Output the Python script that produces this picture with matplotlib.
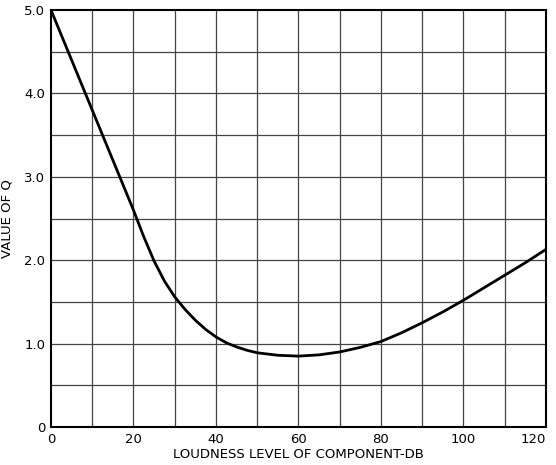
import numpy as np
import matplotlib
matplotlib.use("Agg")
import matplotlib.pyplot as plt

# Q value vs loudness level of component
level_db = [0, 2.5, 5, 7.5, 10, 12.5, 15, 17.5, 20, 22.5, 25, 27.5, 30, 32.5, 35, 37.5,
            40, 42.5, 45, 47.5, 50, 55, 60, 65, 70, 75, 80, 85, 90, 95, 100, 105, 110, 115, 120]
q_value = [5.0, 4.7, 4.4, 4.1, 3.8, 3.5, 3.2, 2.9, 2.6, 2.28, 1.99, 1.75, 1.56, 1.41,
           1.28, 1.17, 1.08, 1.01, 0.96, 0.92, 0.89, 0.86, 0.85, 0.865, 0.9, 0.955, 1.025,
           1.13, 1.25, 1.38, 1.52, 1.67, 1.82, 1.97, 2.13]

x_ticks = [0, 20, 40, 60, 80, 100, 120]
x_labels = ["0", "20", "40", "60", "80", "100", "120"]
y_ticks = [0, 1, 2, 3, 4, 5]
y_labels = ["0", "1.0", "2.0", "3.0", "4.0", "5.0"]

fig = plt.figure(figsize=(5.56, 4.65), dpi=100)
ax = fig.add_axes([0.0917, 0.0817, 0.8903, 0.8968])

# grid: every 10 dB and every 0.5 in Q
for gx in np.arange(10, 120, 10):
    ax.axvline(gx, color="#444444", linewidth=0.9, zorder=1)
for gy in np.arange(0.5, 5.0, 0.5):
    ax.axhline(gy, color="#444444", linewidth=0.9, zorder=1)

ax.plot(level_db, q_value, color="black", linewidth=2.0, zorder=3,
        solid_capstyle="round", solid_joinstyle="round")

ax.set_xlim(0, 120)
ax.set_ylim(0, 5)
ax.set_xticks(x_ticks)
ax.set_xticklabels(x_labels)
ax.set_yticks(y_ticks)
ax.set_yticklabels(y_labels)
ax.tick_params(length=0, labelsize=9.5, pad=4)
# last x label sits flush with the right border, as in the original
ax.get_xticklabels()[-1].set_horizontalalignment("right")

for s in ax.spines.values():
    s.set_linewidth(1.5)
    s.set_color("black")

ax.set_xlabel("LOUDNESS LEVEL OF COMPONENT-DB", fontsize=9.5, labelpad=2)
ax.set_ylabel("VALUE OF Q", fontsize=9.5, labelpad=8)

fig.savefig("out.png", dpi=100)
